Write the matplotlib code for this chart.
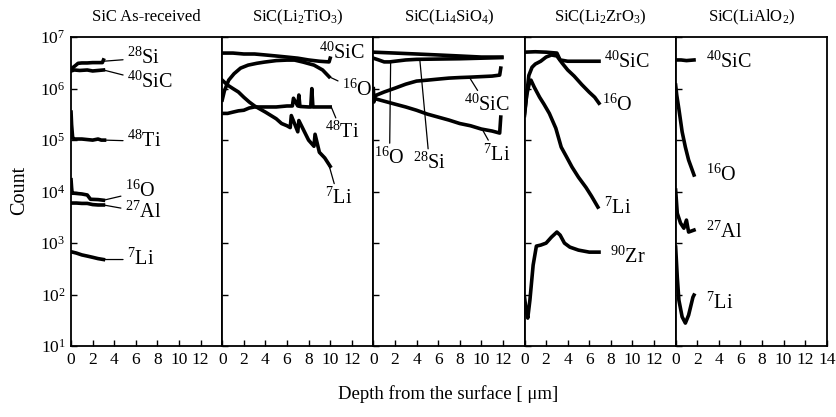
import numpy as np
import matplotlib
matplotlib.use("Agg")
import matplotlib.pyplot as plt

plt.rcParams['font.family'] = 'Liberation Serif'
plt.rcParams['mathtext.fontset'] = 'custom'
plt.rcParams['mathtext.rm'] = 'Liberation Serif'
plt.rcParams['mathtext.it'] = 'Liberation Serif:italic'
plt.rcParams['mathtext.bf'] = 'Liberation Serif:bold'

# ---- data (depth in um, counts) ----
titles = ['SiC As-received', r'SiC(Li$_2$TiO$_3$)', r'SiC(Li$_4$SiO$_4$)',
          r'SiC(Li$_2$ZrO$_3$)', r'SiC(LiAlO$_2$)']

# panel 1: as-received
p1_si_x = [0, 0.1, 0.4, 0.65, 1.0, 1.5, 2.0, 2.5, 2.9, 3.0]
p1_si_y = [2.3e6, 2.5e6, 2.8e6, 3.1e6, 3.15e6, 3.15e6, 3.2e6, 3.2e6, 3.2e6, 3.6e6]
p1_sic_x = [0, 0.3, 0.8, 1.5, 2.0, 2.5, 3.0]
p1_sic_y = [2.2e6, 2.3e6, 2.25e6, 2.3e6, 2.2e6, 2.25e6, 2.3e6]
p1_ti_x = [0, 0.05, 0.15, 0.3, 1.0, 2.0, 2.5, 2.8, 3.1]
p1_ti_y = [3.5e5, 2.0e5, 1.1e5, 1.05e5, 1.05e5, 1.0e5, 1.05e5, 1.0e5, 1.0e5]
p1_o_x = [0, 0.05, 0.1, 0.3, 1.0, 1.5, 1.8, 2.5, 3.0]
p1_o_y = [1.7e4, 1.2e4, 9.3e3, 9.3e3, 9.0e3, 8.6e3, 7.1e3, 7.0e3, 6.8e3]
p1_al_x = [0, 0.5, 1.0, 1.5, 2.0, 2.5, 3.0]
p1_al_y = [6.0e3, 6.0e3, 5.9e3, 5.9e3, 5.6e3, 5.5e3, 5.5e3]
p1_li_x = [0, 0.5, 1.0, 1.5, 2.0, 2.5, 3.0]
p1_li_y = [680, 640, 590, 560, 530, 500, 480]

# panel 2: Li2TiO3
p2_sic_x = [0, 1, 2, 3, 4, 5, 6, 7, 8, 9, 9.9, 10.0]
p2_sic_y = [4.9e6, 4.9e6, 4.7e6, 4.7e6, 4.5e6, 4.3e6, 4.1e6, 3.9e6, 3.6e6, 3.4e6, 3.3e6, 3.9e6]
p2_o_x = [0, 0.2, 0.6, 1.1, 1.7, 2.4, 3.2, 3.9, 5.0, 6.0, 6.7, 7.5, 8.5, 9.3, 9.9]
p2_o_y = [6.0e5, 9.0e5, 1.46e6, 1.95e6, 2.5e6, 2.86e6, 3.1e6, 3.27e6, 3.5e6, 3.58e6,
          3.58e6, 3.27e6, 2.86e6, 2.3e6, 1.7e6]
p2_ti_x = [0, 0.5, 1, 1.5, 2, 2.5, 3, 4, 5, 6, 6.5, 6.6, 7.0, 7.1, 7.2, 8, 8.2, 8.3, 8.4, 9, 10]
p2_ti_y = [3.3e5, 3.3e5, 3.5e5, 3.7e5, 3.8e5, 4.2e5, 4.4e5, 4.4e5, 4.4e5, 4.6e5,
           4.6e5, 6.5e5, 4.6e5, 7.5e5, 4.5e5, 4.4e5, 4.4e5, 1.0e6, 4.4e5, 4.4e5, 4.4e5]
p2_li_x = [0, 0.5, 1, 1.5, 2, 2.5, 3, 4, 5, 5.5, 6, 6.3, 6.4, 7, 7.1, 8, 8.5, 8.6, 9, 9.5, 10]
p2_li_y = [1.46e6, 1.17e6, 1.0e6, 8.6e5, 6.8e5, 5.5e5, 4.6e5, 3.5e5, 2.6e5, 2.1e5,
           1.9e5, 1.75e5, 3.0e5, 1.45e5, 2.4e5, 1.0e5, 7.6e4, 1.3e5, 5.8e4, 4.5e4, 3.1e4]

# panel 3: Li4SiO4
p3_si_x = [0, 1, 2, 4, 6, 8, 10, 11.9]
p3_si_y = [5.1e6, 5.0e6, 4.9e6, 4.7e6, 4.5e6, 4.3e6, 4.1e6, 4.1e6]
p3_o_x = [0, 0.5, 1, 1.5, 2, 3, 4, 6, 8, 10, 11.9]
p3_o_y = [3.9e6, 3.6e6, 3.3e6, 3.3e6, 3.4e6, 3.6e6, 3.7e6, 3.75e6, 3.8e6, 3.9e6, 4.0e6]
p3_sic_x = [0, 0.05, 0.1, 0.3, 1, 2, 3, 4, 5, 6, 7, 8, 9, 10, 11, 11.7, 11.8]
p3_sic_y = [1.0e6, 5.5e5, 6.8e5, 7.5e5, 8.6e5, 1.02e6, 1.22e6, 1.4e6, 1.46e6, 1.53e6,
            1.6e6, 1.64e6, 1.67e6, 1.71e6, 1.75e6, 1.83e6, 2.5e6]
p3_li_x = [0, 1, 2, 3, 4, 5, 6, 7, 8, 9, 10, 11, 11.7, 11.8]
p3_li_y = [6.5e5, 5.7e5, 5.0e5, 4.4e5, 3.8e5, 3.2e5, 2.8e5, 2.45e5, 2.1e5, 1.9e5,
           1.64e5, 1.5e5, 1.37e5, 2.8e5]

# panel 4: Li2ZrO3
p4_sic_x = [0, 1, 2, 3.0, 3.3, 4, 5, 6, 6.9]
p4_sic_y = [5.1e6, 5.2e6, 5.1e6, 4.9e6, 3.6e6, 3.4e6, 3.4e6, 3.4e6, 3.4e6]
p4_o_x = [0, 0.2, 0.4, 0.7, 1.0, 1.5, 2.0, 2.5, 3.0, 3.5, 4.0, 4.6, 5.3, 6.0, 6.5, 6.9]
p4_o_y = [3.3e5, 7.5e5, 1.8e6, 2.6e6, 3.0e6, 3.4e6, 4.1e6, 4.5e6, 4.3e6, 3.1e6,
          2.3e6, 1.75e6, 1.2e6, 8.5e5, 6.8e5, 5.2e5]
p4_li_x = [0, 0.2, 0.45, 0.6, 0.9, 1.4, 1.8, 2.3, 2.9, 3.4, 3.9, 4.4, 5.0, 5.7, 6.2, 6.8]
p4_li_y = [3.0e5, 7.5e5, 1.28e6, 1.46e6, 1.07e6, 6.8e5, 5.0e5, 3.3e5, 1.7e5, 7.3e4,
           4.7e4, 3.0e4, 1.9e4, 1.2e4, 8.2e3, 5.0e3]
p4_zr_x = [0, 0.15, 0.3, 0.5, 0.8, 1.1, 1.5, 2.0, 2.5, 3.0, 3.3, 3.7, 4.2, 5.0, 6.0, 6.9]
p4_zr_y = [89, 50, 35, 78, 374, 875, 915, 1000, 1310, 1640, 1430, 1000, 836, 731, 668, 668]

# panel 5: LiAlO2
p5_sic_x = [0, 0.5, 1.0, 1.7]
p5_sic_y = [3.6e6, 3.6e6, 3.5e6, 3.6e6]
p5_o_x = [0, 0.1, 0.3, 0.6, 0.9, 1.2, 1.7]
p5_o_y = [1.17e6, 7.5e5, 4.0e5, 1.45e5, 7.3e4, 4.1e4, 2.1e4]
p5_al_x = [0, 0.15, 0.45, 0.76, 1.0, 1.2, 1.7]
p5_al_y = [1.07e4, 3.8e3, 2.45e3, 1.95e3, 2.8e3, 1.64e3, 1.79e3]
p5_li_x = [0, 0.15, 0.3, 0.6, 0.9, 1.2, 1.6, 1.7]
p5_li_y = [836, 219, 78, 37, 28, 40, 89, 98]

series = [
    [(p1_si_x, p1_si_y), (p1_sic_x, p1_sic_y), (p1_ti_x, p1_ti_y),
     (p1_o_x, p1_o_y), (p1_al_x, p1_al_y), (p1_li_x, p1_li_y)],
    [(p2_sic_x, p2_sic_y), (p2_o_x, p2_o_y), (p2_ti_x, p2_ti_y), (p2_li_x, p2_li_y)],
    [(p3_si_x, p3_si_y), (p3_o_x, p3_o_y), (p3_sic_x, p3_sic_y), (p3_li_x, p3_li_y)],
    [(p4_sic_x, p4_sic_y), (p4_o_x, p4_o_y), (p4_li_x, p4_li_y), (p4_zr_x, p4_zr_y)],
    [(p5_sic_x, p5_sic_y), (p5_o_x, p5_o_y), (p5_al_x, p5_al_y), (p5_li_x, p5_li_y)],
]

# labels: (text, text x, text y, leader point or None, ha)
labels = [
    [(r'$^{28}$Si', 5.2, 3.9e6, (3.0, 3.4e6), 'left'),
     (r'$^{40}$SiC', 5.2, 1.35e6, (3.0, 2.3e6), 'left'),
     (r'$^{48}$Ti', 5.2, 9.5e4, (3.1, 1.0e5), 'left'),
     (r'$^{16}$O', 5.0, 1.0e4, (3.0, 6.8e3), 'left'),
     (r'$^{27}$Al', 5.0, 4.0e3, (3.0, 5.5e3), 'left'),
     (r'$^{7}$Li', 5.2, 480, (3.0, 480), 'left')],
    [(r'$^{40}$SiC', 9.0, 4.9e6, None, 'left'),
     (r'$^{16}$O', 11.1, 9.4e5, (9.9, 1.7e6), 'left'),
     (r'$^{48}$Ti', 9.5, 1.4e5, (10.1, 4.4e5), 'left'),
     (r'$^{7}$Li', 9.5, 7.4e3, (9.9, 3.2e4), 'left')],
    [(r'$^{16}$O', 1.5, 4.5e4, (1.6, 3.3e6), 'center'),
     (r'$^{28}$Si', 5.2, 3.5e4, (4.3, 3.7e6), 'center'),
     (r'$^{40}$SiC', 10.5, 4.8e5, (8.9, 1.65e6), 'center'),
     (r'$^{7}$Li', 11.4, 5.2e4, (10.1, 1.6e5), 'center')],
    [(r'$^{40}$SiC', 7.4, 3.3e6, None, 'left'),
     (r'$^{16}$O', 7.2, 4.8e5, None, 'left'),
     (r'$^{7}$Li', 7.4, 4.8e3, None, 'left'),
     (r'$^{90}$Zr', 7.9, 5.4e2, None, 'left')],
    [(r'$^{40}$SiC', 2.8, 3.3e6, None, 'left'),
     (r'$^{16}$O', 2.8, 2.1e4, None, 'left'),
     (r'$^{27}$Al', 2.8, 1.64e3, None, 'left'),
     (r'$^{7}$Li', 2.8, 68, None, 'left')],
]

fig, axes = plt.subplots(1, 5, sharey=True, figsize=(8.36, 4.17), dpi=100)
fig.subplots_adjust(left=0.085, right=0.989, top=0.911, bottom=0.170, wspace=0)

for i, ax in enumerate(axes):
    for xs, ys in series[i]:
        ax.plot(xs, ys, color='black', lw=2.6, solid_joinstyle='round')
    for txt, tx, ty, pt, ha in labels[i]:
        if pt is None:
            ax.text(tx, ty, txt, ha=ha, va='center', fontsize=14.5)
        else:
            ax.annotate(txt, xy=pt, xytext=(tx, ty), ha=ha, va='center', fontsize=14.5,
                        arrowprops=dict(arrowstyle='-', lw=0.9, color='black',
                                        shrinkA=1, shrinkB=0))
    ax.set_yscale('log')
    ax.set_ylim(1e1, 1e7)
    ax.set_xlim(0, 14)
    if i < 4:
        ax.set_xticks(np.arange(0, 13, 2))
    else:
        ax.set_xticks(np.arange(0, 15, 2))
    ax.yaxis.set_minor_locator(matplotlib.ticker.NullLocator())
    ax.tick_params(direction='in', length=4.5, width=1.0, labelsize=12.5, pad=4)
    ax.tick_params(axis='y', right=False)
    for sp in ax.spines.values():
        sp.set_linewidth(1.3)
    ax.text(0.5, 1.065, titles[i], transform=ax.transAxes, ha='center', va='center',
            fontsize=12)

axes[0].set_yticks([1e1, 1e2, 1e3, 1e4, 1e5, 1e6, 1e7])
fig.text(20 / 836, 1 - 190 / 417, 'Count', rotation=90, ha='center', va='center', fontsize=14.5)
fig.text(0.536, 1 - 394 / 417, r'Depth from the surface [ μm]', ha='center', va='center',
         fontsize=13.5)

fig.savefig('out.png', dpi=100)
